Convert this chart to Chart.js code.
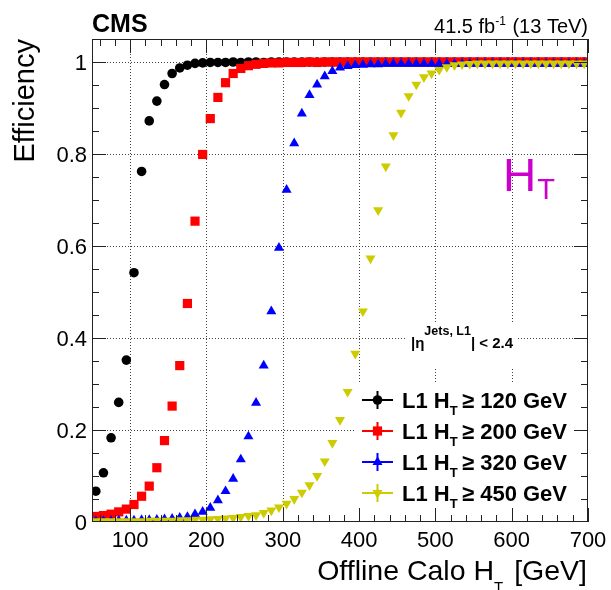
<!DOCTYPE html>
<html>
<head>
<meta charset="utf-8">
<script src="https://cdn.jsdelivr.net/npm/chart.js@4.4.1/dist/chart.umd.min.js"></script>
<style>
  html, body { margin: 0; padding: 0; background: #fff; }
  canvas { display: block; }
</style>
</head>
<body>
<canvas id="myChart" width="611" height="590" style="width:611px;height:590px"></canvas>
<script>
// bin centres, offline calo HT [GeV]
const X_BINS = [55, 65, 75, 85, 95, 105, 115, 125, 135, 145,
  155, 165, 175, 185, 195, 205, 215, 225, 235, 245,
  255, 265, 275, 285, 295, 305, 315, 325, 335, 345,
  355, 365, 375, 385, 395, 405, 415, 425, 435, 445,
  455, 465, 475, 485, 495, 505, 515, 525, 535, 545,
  555, 565, 575, 585, 595, 605, 615, 625, 635, 645,
  655, 665, 675, 685, 695];

// efficiencies, one per L1 threshold
const EFF_120 = [0.067, 0.107, 0.183, 0.260, 0.352, 0.542, 0.762, 0.872, 0.915, 0.951,
  0.975, 0.987, 0.993, 0.997, 0.998, 0.999, 0.999, 0.999, 1.000, 0.999,
  1.000, 1.000, 0.999, 1.000, 1.000, 1.000, 1.000, 1.000, 1.000, 1.000,
  1.000, 1.000, 1.000, 1.000, 1.000, 1.000, 1.000, 1.000, 1.000, 1.000,
  1.000, 1.000, 1.000, 1.000, 1.000, 1.000, 1.000, 1.000, 1.000, 1.000,
  1.000, 1.000, 1.000, 1.000, 1.000, 1.000, 1.000, 1.000, 1.000, 1.000,
  1.000, 1.000, 1.000, 1.000, 1.000];

const EFF_200 = [0.012, 0.014, 0.017, 0.022, 0.028, 0.038, 0.056, 0.078, 0.118, 0.177,
  0.252, 0.340, 0.475, 0.654, 0.799, 0.877, 0.923, 0.955, 0.975, 0.986,
  0.992, 0.995, 0.997, 0.998, 0.998, 0.999, 0.999, 0.999, 1.000, 0.999,
  1.000, 1.000, 1.000, 1.000, 1.000, 1.000, 1.000, 1.000, 1.000, 1.000,
  1.000, 1.000, 1.000, 1.000, 1.000, 1.000, 1.000, 1.000, 1.000, 1.000,
  1.000, 1.000, 1.000, 1.000, 1.000, 1.000, 1.000, 1.000, 1.000, 1.000,
  1.000, 1.000, 1.000, 1.000, 1.000];

const EFF_320 = [0.002, 0.002, 0.002, 0.003, 0.003, 0.003, 0.004, 0.004, 0.005, 0.006,
  0.007, 0.009, 0.011, 0.017, 0.022, 0.031, 0.047, 0.067, 0.094, 0.136,
  0.186, 0.259, 0.340, 0.458, 0.596, 0.722, 0.823, 0.888, 0.928, 0.951,
  0.969, 0.980, 0.988, 0.991, 0.993, 0.994, 0.995, 0.995, 0.996, 0.996,
  0.996, 0.996, 0.996, 0.996, 0.996, 0.996, 0.996, 0.996, 0.996, 0.996,
  0.996, 0.996, 0.996, 0.996, 0.996, 0.996, 0.996, 0.996, 0.996, 0.996,
  0.996, 0.996, 0.996, 0.996, 0.996];

const EFF_450 = [0.002, 0.002, 0.002, 0.002, 0.002, 0.002, 0.002, 0.003, 0.003, 0.003,
  0.003, 0.004, 0.004, 0.005, 0.005, 0.006, 0.007, 0.008, 0.009, 0.011,
  0.013, 0.015, 0.020, 0.025, 0.032, 0.040, 0.050, 0.064, 0.080, 0.100,
  0.132, 0.172, 0.222, 0.283, 0.366, 0.458, 0.573, 0.678, 0.773, 0.841,
  0.890, 0.926, 0.951, 0.967, 0.975, 0.983, 0.989, 0.993, 0.995, 0.996,
  0.997, 0.997, 0.997, 0.997, 0.997, 0.997, 0.997, 0.997, 0.997, 0.997,
  0.997, 0.997, 0.997, 0.997, 0.997];

const THRESHOLDS = ['120', '200', '320', '450'];

// axis ticks
const X_MAJOR = [100, 200, 300, 400, 500, 600, 700];
const X_TICK_LABELS = ['100', '200', '300', '400', '500', '600', '700'];
const Y_MAJOR = [0, 0.2, 0.4, 0.6, 0.8, 1.0];
const Y_TICK_LABELS = ['0', '0.2', '0.4', '0.6', '0.8', '1'];

const FONT = '"Liberation Sans", Arial, Helvetica, sans-serif';

function series(vals) {
  return X_BINS.map((x, i) => ({ x: x, y: vals[i] }));
}

function line(ctx, x1, y1, x2, y2) {
  ctx.beginPath();
  ctx.moveTo(x1, y1);
  ctx.lineTo(x2, y2);
  ctx.stroke();
}

// draw text pieces left to right, returns end x
function textRun(ctx, parts, x) {
  parts.forEach(p => {
    ctx.font = p.font;
    ctx.fillText(p.t, x, p.y);
    x += ctx.measureText(p.t).width + (p.gap || 0);
  });
  return x;
}

function runWidth(ctx, parts) {
  let w = 0;
  parts.forEach(p => { ctx.font = p.font; w += ctx.measureText(p.t).width + (p.gap || 0); });
  return w;
}

const cmsDecor = {
  id: 'cmsDecor',
  beforeDraw(chart) {
    const ctx = chart.ctx;
    ctx.save();
    ctx.fillStyle = '#fff';
    ctx.fillRect(0, 0, chart.width, chart.height);
    ctx.restore();
  },
  beforeDatasetsDraw(chart) {
    const { ctx, chartArea: a, scales: { x, y } } = chart;
    ctx.save();
    ctx.strokeStyle = '#444';
    ctx.lineWidth = 1;
    ctx.setLineDash([1, 2]);
    X_MAJOR.forEach(v => {
      if (v >= 700) return;
      const px = Math.round(x.getPixelForValue(v)) + 0.5;
      line(ctx, px, a.top, px, a.bottom);
    });
    Y_MAJOR.forEach(v => {
      if (v <= 0) return;
      const py = Math.round(y.getPixelForValue(v)) + 0.5;
      line(ctx, a.left, py, a.right, py);
    });
    ctx.setLineDash([]);
    // boxes behind the eta label and the legend
    ctx.fillStyle = '#fff';
    ctx.fillRect(407, 323, 111, 45);
    ctx.fillRect(355, 382, 228, 132);
    ctx.restore();
  },
  afterDraw(chart) {
    const { ctx, chartArea: a, scales: { x, y } } = chart;
    ctx.save();

    // frame
    ctx.strokeStyle = '#222';
    ctx.lineWidth = 1;
    ctx.strokeRect(a.left + 0.5, a.top + 0.5, a.right - a.left - 1, a.bottom - a.top - 1);

    // x ticks, inside, bottom and top
    for (let v = 60; v <= 700; v += 20) {
      const major = X_MAJOR.indexOf(v) >= 0;
      const len = major ? 14 : 7;
      const px = Math.round(x.getPixelForValue(v)) + 0.5;
      line(ctx, px, a.bottom, px, a.bottom - len);
      line(ctx, px, a.top, px, a.top + len);
    }
    // y ticks, inside, left and right
    for (let k = 1; k <= 20; k++) {
      const v = k * 0.05;
      const major = k % 4 === 0;
      const len = major ? 14 : 7;
      const py = Math.round(y.getPixelForValue(v)) + 0.5;
      line(ctx, a.left, py, a.left + len, py);
      line(ctx, a.right, py, a.right - len, py);
    }

    // tick labels
    ctx.fillStyle = '#000';
    ctx.font = '22px ' + FONT;
    ctx.textAlign = 'center';
    ctx.textBaseline = 'alphabetic';
    X_MAJOR.forEach((v, i) => {
      ctx.fillText(X_TICK_LABELS[i], x.getPixelForValue(v), 547);
    });
    ctx.textAlign = 'right';
    Y_MAJOR.forEach((v, i) => {
      ctx.fillText(Y_TICK_LABELS[i], 87, y.getPixelForValue(v) + 8);
    });

    // axis titles
    ctx.textAlign = 'left';
    const xt = [
      { t: 'Offline Calo H', font: '28.5px ' + FONT, y: 580 },
      { t: 'T', font: '15px ' + FONT, y: 592, gap: 3 },
      { t: ' [GeV]', font: '28.5px ' + FONT, y: 580 }
    ];
    textRun(ctx, xt, a.right - 1 - runWidth(ctx, xt));

    ctx.save();
    ctx.translate(34, a.top);
    ctx.rotate(-Math.PI / 2);
    ctx.textAlign = 'right';
    ctx.font = '29px ' + FONT;
    ctx.fillText('Efficiency', 0, 0);
    ctx.restore();

    // header
    ctx.textAlign = 'left';
    ctx.font = 'bold 25px ' + FONT;
    ctx.fillText('CMS', a.left, 32);
    const lumi = [
      { t: '41.5 fb', font: '20px ' + FONT, y: 33 },
      { t: '-1', font: '12px ' + FONT, y: 25, gap: 1 },
      { t: ' (13 TeV)', font: '20px ' + FONT, y: 33 }
    ];
    textRun(ctx, lumi, a.right - runWidth(ctx, lumi));

    // big HT label
    ctx.fillStyle = '#cc00cc';
    textRun(ctx, [
      { t: 'H', font: '46px ' + FONT, y: 191, gap: 1 },
      { t: 'T', font: '29px ' + FONT, y: 199 }
    ], 503);

    // eta cut
    ctx.fillStyle = '#000';
    textRun(ctx, [
      { t: '|\u03b7', font: 'bold 15px ' + FONT, y: 348 },
      { t: 'Jets, L1', font: 'bold 12.5px ' + FONT, y: 335 },
      { t: '| < 2.4', font: 'bold 15px ' + FONT, y: 348 }
    ], 411);

    // legend
    chart.data.datasets.forEach((ds, i) => {
      const cy = 400 + i * 31;
      const mx = 377.5;
      ctx.strokeStyle = ds.borderColor;
      ctx.lineWidth = 2;
      line(ctx, 362, cy, 393, cy);
      line(ctx, mx, cy - 9, mx, cy + 9);
      ctx.fillStyle = ds.backgroundColor;
      Chart.helpers.drawPoint(ctx, {
        pointStyle: ds.pointStyle,
        radius: ds.pointRadius,
        rotation: ds.pointRotation || 0,
        borderWidth: 0
      }, mx, cy);
      ctx.fillStyle = '#000';
      textRun(ctx, [
        { t: 'L1 H', font: 'bold 22px ' + FONT, y: cy + 8 },
        { t: 'T', font: 'bold 13px ' + FONT, y: cy + 15 }
      ], 402);
      textRun(ctx, [
        { t: '\u2265 ' + THRESHOLDS[i] + ' GeV', font: 'bold 22px ' + FONT, y: cy + 8 }
      ], 462);
    });

    ctx.restore();
  }
};

document.addEventListener('DOMContentLoaded', function () {
  const ctx = document.getElementById('myChart').getContext('2d');
  new Chart(ctx, {
    type: 'scatter',
    data: {
      datasets: [
        { label: 'L1 HT >= 120 GeV', data: series(EFF_120), pointStyle: 'circle', pointRadius: 4.8,
          backgroundColor: '#000000', borderColor: '#000000', pointBorderWidth: 0, order: 4 },
        { label: 'L1 HT >= 200 GeV', data: series(EFF_200), pointStyle: 'rect', pointRadius: 6.5,
          backgroundColor: '#ff0000', borderColor: '#ff0000', pointBorderWidth: 0, order: 3 },
        { label: 'L1 HT >= 320 GeV', data: series(EFF_320), pointStyle: 'triangle', pointRadius: 5.8,
          backgroundColor: '#0000ff', borderColor: '#0000ff', pointBorderWidth: 0, order: 2 },
        { label: 'L1 HT >= 450 GeV', data: series(EFF_450), pointStyle: 'triangle', pointRadius: 5.8,
          pointRotation: 180, backgroundColor: '#cccc00', borderColor: '#cccc00', pointBorderWidth: 0, order: 1 }
      ]
    },
    options: {
      responsive: false,
      maintainAspectRatio: false,
      devicePixelRatio: 1,
      animation: false,
      events: [],
      layout: { padding: { left: 92, right: 23, top: 39, bottom: 68 } },
      scales: {
        x: { type: 'linear', min: 50, max: 700, display: false },
        y: { type: 'linear', min: 0, max: 1.05, display: false }
      },
      plugins: {
        legend: { display: false },
        tooltip: { enabled: false }
      }
    },
    plugins: [cmsDecor]
  });
});
</script>
</body>
</html>
